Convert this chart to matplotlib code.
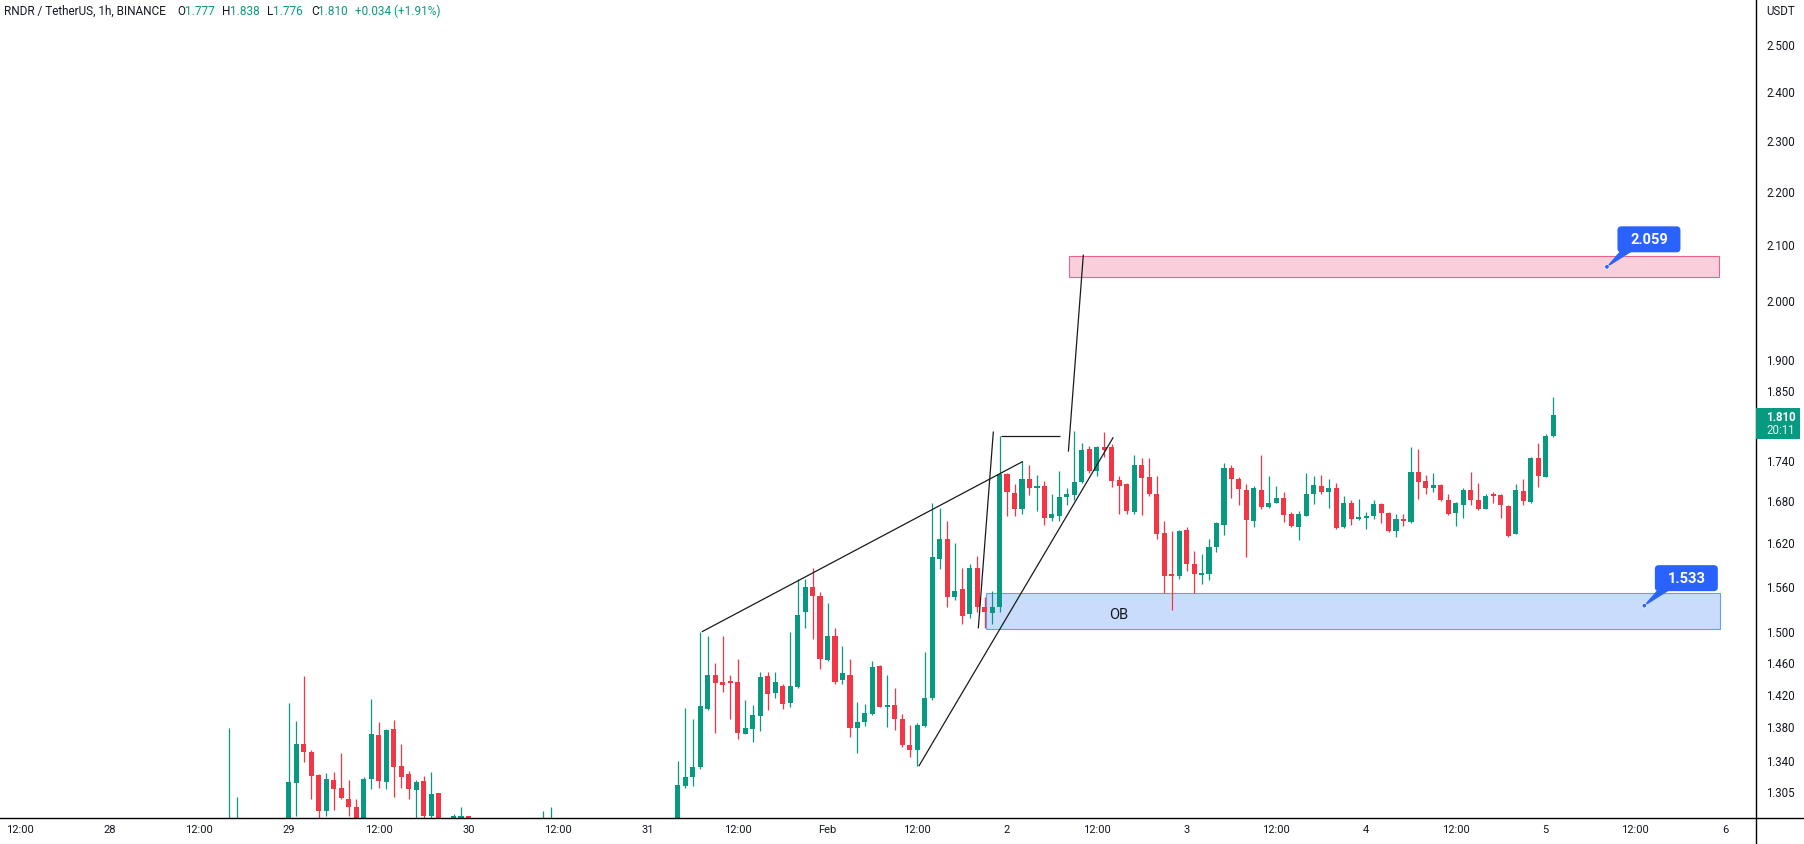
import matplotlib
matplotlib.use("Agg")
import matplotlib.pyplot as plt
import numpy as np
from matplotlib.patches import Rectangle, Polygon, FancyBboxPatch, Circle
from matplotlib.lines import Line2D
from matplotlib.transforms import IdentityTransform
from matplotlib.ticker import NullLocator, NullFormatter

plt.rcParams['font.family'] = ['Roboto', 'DejaVu Sans']

# ---------------- data (RNDR/USDT 1h, hours relative to Feb 1 00:00) ----------------
hours = ([-80, -79, -72, -71, -70, -69, -68, -67, -66, -65, -64, -63, -62, -61,
          -60, -59, -58, -57, -56, -55, -54, -53, -52, -50, -49, -48, -38, -37]
         + list(range(-20, 98)))

opens = [1.262, 1.262, 1.262, 1.314, 1.359, 1.350, 1.3225, 1.282, 1.317, 1.308, 1.296, 1.286, 1.268, 1.318,
         1.370, 1.315, 1.377, 1.333, 1.324, 1.306, 1.316, 1.276, 1.302, 1.265, 1.262, 1.276, 1.262, 1.264,
         1.262, 1.3105, 1.3208, 1.332, 1.401, 1.443, 1.434, 1.435, 1.435, 1.371, 1.377, 1.393,
         1.442, 1.421, 1.430, 1.409, 1.428, 1.524, 1.558, 1.546, 1.462, 1.4935, 1.437, 1.443,
         1.378, 1.385, 1.395, 1.455, 1.404, 1.406, 1.389, 1.358, 1.352, 1.380, 1.415, 1.597,
         1.6245, 1.545, 1.556, 1.522, 1.5845, 1.531, 1.523, 1.531, 1.7195, 1.691, 1.668, 1.712,
         1.698, 1.702, 1.655, 1.657, 1.685, 1.688, 1.707, 1.757, 1.724, 1.760, 1.760, 1.710,
         1.705, 1.663, 1.732, 1.714, 1.690, 1.633, 1.575, 1.573, 1.637, 1.590, 1.575, 1.5765,
         1.6135, 1.645, 1.728, 1.711, 1.696, 1.650, 1.696, 1.670, 1.677, 1.683, 1.660, 1.641,
         1.658, 1.690, 1.702, 1.692, 1.699, 1.641, 1.677, 1.653, 1.655, 1.657, 1.675, 1.662,
         1.636, 1.653, 1.649, 1.7215, 1.708, 1.698, 1.703, 1.680, 1.662, 1.673, 1.695, 1.681,
         1.668, 1.688, 1.688, 1.672, 1.632, 1.694, 1.678, 1.744, 1.715, 1.777]

highs = [1.378, 1.2975, 1.409, 1.386, 1.442, 1.352, 1.324, 1.325, 1.326, 1.348, 1.317, 1.295, 1.3205, 1.413,
         1.385, 1.377, 1.388, 1.359, 1.328, 1.317, 1.3216, 1.326, 1.302, 1.279, 1.286, 1.277, 1.282, 1.286,
         1.339, 1.402, 1.389, 1.4985, 1.493, 1.458, 1.493, 1.4426, 1.463, 1.412, 1.406, 1.447,
         1.447, 1.447, 1.432, 1.498, 1.569, 1.569, 1.5845, 1.551, 1.5365, 1.503, 1.480, 1.464,
         1.410, 1.407, 1.4615, 1.456, 1.443, 1.427, 1.395, 1.382, 1.384, 1.473, 1.676, 1.669,
         1.650, 1.619, 1.5845, 1.589, 1.601, 1.545, 1.553, 1.777, 1.720, 1.705, 1.738, 1.732,
         1.718, 1.708, 1.689, 1.724, 1.698, 1.784, 1.766, 1.762, 1.762, 1.783, 1.765, 1.716,
         1.706, 1.748, 1.743, 1.743, 1.716, 1.650, 1.636, 1.637, 1.642, 1.608, 1.6035, 1.624,
         1.649, 1.736, 1.732, 1.714, 1.704, 1.701, 1.748, 1.716, 1.701, 1.692, 1.663, 1.664,
         1.721, 1.716, 1.717, 1.711, 1.706, 1.686, 1.680, 1.682, 1.663, 1.680, 1.677, 1.663,
         1.660, 1.660, 1.760, 1.757, 1.718, 1.720, 1.704, 1.690, 1.678, 1.698, 1.7215, 1.706,
         1.690, 1.692, 1.689, 1.674, 1.705, 1.711, 1.745, 1.766, 1.780, 1.838]

lows = [1.250, 1.255, 1.255, 1.277, 1.338, 1.295, 1.268, 1.277, 1.2835, 1.295, 1.277, 1.262, 1.262, 1.3065,
        1.308, 1.3065, 1.2975, 1.308, 1.296, 1.265, 1.262, 1.262, 1.255, 1.258, 1.258, 1.255, 1.255, 1.258,
        1.255, 1.3075, 1.3105, 1.330, 1.400, 1.372, 1.422, 1.389, 1.365, 1.371, 1.362, 1.375,
        1.400, 1.414, 1.401, 1.403, 1.427, 1.503, 1.489, 1.451, 1.461, 1.432, 1.432, 1.367,
        1.349, 1.380, 1.394, 1.403, 1.379, 1.376, 1.356, 1.344, 1.333, 1.379, 1.412, 1.583,
        1.531, 1.541, 1.509, 1.517, 1.524, 1.503, 1.509, 1.525, 1.658, 1.658, 1.661, 1.688,
        1.665, 1.645, 1.650, 1.650, 1.674, 1.680, 1.706, 1.721, 1.716, 1.745, 1.700, 1.660,
        1.661, 1.661, 1.659, 1.687, 1.624, 1.5495, 1.5275, 1.5695, 1.580, 1.5495, 1.562, 1.568,
        1.606, 1.630, 1.683, 1.674, 1.600, 1.642, 1.668, 1.669, 1.676, 1.649, 1.642, 1.623,
        1.657, 1.675, 1.689, 1.669, 1.639, 1.640, 1.644, 1.652, 1.639, 1.653, 1.648, 1.635,
        1.627, 1.643, 1.648, 1.682, 1.690, 1.692, 1.679, 1.659, 1.643, 1.655, 1.674, 1.666,
        1.667, 1.676, 1.654, 1.628, 1.631, 1.674, 1.677, 1.700, 1.714, 1.776]

closes = [1.268, 1.266, 1.3147, 1.359, 1.350, 1.3216, 1.2818, 1.318, 1.307, 1.297, 1.286, 1.268, 1.318, 1.371,
          1.316, 1.376, 1.332, 1.3205, 1.307, 1.315, 1.276, 1.301, 1.262, 1.277, 1.276, 1.262, 1.268, 1.270,
          1.311, 1.320, 1.332, 1.4047, 1.443, 1.433, 1.431, 1.433, 1.3724, 1.378, 1.394, 1.4405,
          1.420, 1.434, 1.407, 1.429, 1.5205, 1.558, 1.546, 1.463, 1.4935, 1.435, 1.446, 1.378,
          1.385, 1.396, 1.4535, 1.404, 1.406, 1.389, 1.358, 1.352, 1.3815, 1.415, 1.5995, 1.6245,
          1.5445, 1.553, 1.5195, 1.5845, 1.531, 1.524, 1.531, 1.7185, 1.693, 1.668, 1.712, 1.699,
          1.702, 1.655, 1.660, 1.685, 1.689, 1.707, 1.755, 1.724, 1.760, 1.755, 1.709, 1.702,
          1.664, 1.733, 1.713, 1.690, 1.632, 1.5735, 1.5735, 1.6355, 1.590, 1.576, 1.5765, 1.614,
          1.647, 1.728, 1.711, 1.697, 1.651, 1.698, 1.670, 1.677, 1.684, 1.659, 1.643, 1.660,
          1.690, 1.703, 1.693, 1.699, 1.640, 1.677, 1.653, 1.656, 1.658, 1.675, 1.662, 1.636,
          1.653, 1.650, 1.7215, 1.707, 1.698, 1.703, 1.680, 1.661, 1.677, 1.695, 1.681, 1.668,
          1.687, 1.686, 1.673, 1.629, 1.695, 1.679, 1.744, 1.716, 1.777, 1.810]

# axis ticks
price_ticks = [2.500, 2.400, 2.300, 2.200, 2.100, 2.000, 1.900, 1.850, 1.740, 1.680,
               1.620, 1.560, 1.500, 1.460, 1.420, 1.380, 1.340, 1.305]
time_ticks = [-108, -96, -84, -72, -60, -48, -36, -24, -12, 0, 12, 24, 36, 48, 60, 72, 84, 96, 108, 120]
time_labels = ["12:00", "28", "12:00", "29", "12:00", "30", "12:00", "31", "12:00", "Feb",
               "12:00", "2", "12:00", "3", "12:00", "4", "12:00", "5", "12:00", "6"]

# drawings: (hour, price) anchors
upper_line = [(-16.8, 1.4985), (26.1, 1.738)]
lower_line = [(12.2, 1.333), (38.2, 1.775)]
pole_line_1 = [(20.16, 1.503), (22.17, 1.784)]
flag_top = [(23.24, 1.7766), (31.12, 1.7766)]
pole_line_2 = [(32.2, 1.753), (34.2, 2.081)]
target_zone = (32.26, 119.2, 2.040, 2.079)     # hour0, hour1, price_low, price_high
ob_zone = (21.23, 119.25, 1.5027, 1.5495)
ob_label = (38.9, 1.522, "OB")
callouts = [(104.2, 2.059, "2.059"), (109.2, 1.533, "1.533")]

header_title = "RNDR / TetherUS, 1h, BINANCE"
header_ohlc = [("O", "1.777"), ("H", "1.838"), ("L", "1.776"), ("C", "1.810")]
header_change = "+0.034 (+1.91%)"
last_price = "1.810"
countdown = "20:11"

# ---------------- style ----------------
GREEN = '#089981'
RED = '#F23645'
TXT = '#131722'
BLUE = '#2962FF'

W, H = 1804, 845
PLOT_RIGHT = 1755.5
PLOT_BOTTOM = 818.5

fig = plt.figure(figsize=(W / 100, H / 100), dpi=100)
fig.patch.set_facecolor('white')
ax = fig.add_axes([0, (H - PLOT_BOTTOM) / H, PLOT_RIGHT / W, PLOT_BOTTOM / H])
ax.set_facecolor('white')
ax.set_yscale('log')
ax.set_ylim(1.2748, 2.5997)
ax.set_xlim(-110.63, 124.06)
for s in ax.spines.values():
    s.set_visible(False)

# candles
x = np.array(hours, dtype=float)
o = np.array(opens); c = np.array(closes); hi = np.array(highs); lo = np.array(lows)
up = c >= o
cols = np.where(up, GREEN, RED)
ax.vlines(x, lo, hi, colors=cols, linewidth=0.9, zorder=3)
bot = np.minimum(o, c)
top = np.maximum(np.maximum(o, c), bot * 1.0018)
ax.bar(x, top - bot, width=0.68, bottom=bot, color=cols, linewidth=0, zorder=4)

# zones
h0, h1, p0, p1 = target_zone
ax.add_patch(Rectangle((h0, p0), h1 - h0, p1 - p0, facecolor='#f9cfdb', edgecolor='#e8628c',
                       linewidth=0.8, zorder=1))
h0, h1, p0, p1 = ob_zone
ax.add_patch(Rectangle((h0, p0), h1 - h0, p1 - p0, facecolor='#cadcfb', edgecolor='#6b9cf2',
                       linewidth=0.8, zorder=1))
ax.text(ob_label[0], ob_label[1], ob_label[2], ha='center', va='center', fontsize=10.5,
        color=TXT, zorder=6)

# lines
for seg in [upper_line, lower_line, pole_line_1, flag_top, pole_line_2]:
    (xa, ya), (xb, yb) = seg
    ax.plot([xa, xb], [ya, yb], color='#1a1a1a', linewidth=0.9, zorder=5,
            solid_capstyle='butt')

# ticks
ax.yaxis.tick_right()
ax.set_yticks(price_ticks)
ax.set_yticklabels([f"{p:.3f}" for p in price_ticks])
ax.yaxis.set_minor_locator(NullLocator())
ax.yaxis.set_minor_formatter(NullFormatter())
ax.tick_params(axis='y', length=0, pad=7.8, labelsize=8.3, colors=TXT)
ax.set_xticks(time_ticks)
ax.set_xticklabels(time_labels)
ax.tick_params(axis='x', length=0, pad=5, labelsize=8, colors=TXT)

# frame lines (display pixels)
ID = IdentityTransform()
fig.add_artist(Line2D([PLOT_RIGHT, PLOT_RIGHT], [0, H], transform=ID, color='black', linewidth=1.0))
fig.add_artist(Line2D([0, W], [H - PLOT_BOTTOM, H - PLOT_BOTTOM], transform=ID, color='black', linewidth=1.0))


def px(hh, pp):
    return ax.transData.transform((hh, pp))


# callouts
for hh, pp, lab in callouts:
    axp, ayp = px(hh, pp)
    bw, bh = 63, 26
    cx, cy = axp + 42, ayp + 27.5
    left, bottom = cx - bw / 2, cy - bh / 2
    fig.add_artist(Polygon([(axp, ayp), (left + 3, bottom + 1), (left + 14, bottom + 1)],
                           closed=True, transform=ID, facecolor=BLUE, edgecolor=BLUE,
                           linewidth=0.6, zorder=10))
    fig.add_artist(FancyBboxPatch((left, bottom), bw, bh, boxstyle='round,pad=0,rounding_size=4',
                                  transform=ID, facecolor=BLUE, edgecolor='none', zorder=11))
    fig.add_artist(Circle((axp, ayp), 2.3, transform=ID, facecolor=BLUE, edgecolor='white',
                          linewidth=0.5, zorder=12))
    fig.text(cx, cy, lab, transform=ID, ha='center', va='center', color='white',
             fontsize=10.5, fontweight='bold', zorder=13)

# last price label on the price scale
_, yp = px(0, float(last_price))
fig.add_artist(Rectangle((PLOT_RIGHT, yp - 24.3), 44.5, 31, transform=ID, facecolor=GREEN,
                         edgecolor='none', zorder=10))
fig.text(1766, yp - 1.6, last_price, transform=ID, ha='left', va='center', color='white',
         fontsize=8.3, fontweight='bold', zorder=11)
fig.text(1766, yp - 15, countdown, transform=ID, ha='left', va='center', color='#e6f5f2',
         fontsize=8.3, zorder=11)
fig.text(1766, H - 11.5, "USDT", transform=ID, ha='left', va='center', color=TXT, fontsize=8.3)

# header
hy = H - 11.5
fig.text(4, hy, header_title, transform=ID, ha='left', va='center', color=TXT, fontsize=8.5)
pos = [(177, 184.5), (222, 230), (267, 273), (311, 318)]
for (k, v), (xk, xv) in zip(header_ohlc, pos):
    fig.text(xk, hy, k, transform=ID, ha='left', va='center', color=TXT, fontsize=8.5)
    fig.text(xv, hy, v, transform=ID, ha='left', va='center', color=GREEN, fontsize=8.5)
fig.text(355, hy, header_change, transform=ID, ha='left', va='center', color=GREEN, fontsize=8.5)

fig.savefig('out.png', dpi=100, facecolor='white')
